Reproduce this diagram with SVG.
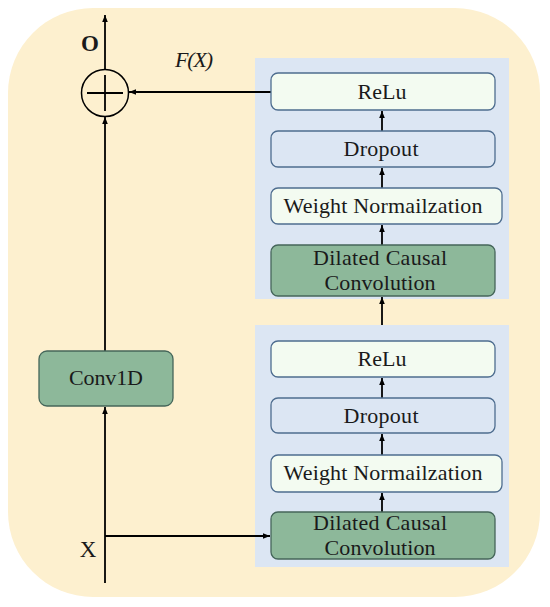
<svg xmlns="http://www.w3.org/2000/svg" width="550" height="607" viewBox="0 0 550 607">
<defs>
<marker id="ah" viewBox="0 0 10 10" refX="10" refY="5" markerWidth="7" markerHeight="7" markerUnits="userSpaceOnUse" orient="auto">
<path d="M0,1 L10,5 L0,9 Z" fill="#000"/>
</marker>
<style>
.t{font-family:"Liberation Serif","DejaVu Serif",serif;font-size:22px;fill:#1a1a1a;text-anchor:middle}
.lite{fill:#F3FBF1;stroke:#4E6D8F;stroke-width:1.3}
.blue{fill:#DCE6F3;stroke:#4E6D8F;stroke-width:1.3}
.green{fill:#8DB89A;stroke:#45665A;stroke-width:1.3}
.panel{fill:#DCE6F3}
.ln{stroke:#000;stroke-width:1.8;fill:none}
</style>
</defs>
<rect x="8" y="8" width="532" height="589" rx="85" ry="85" fill="#FDF0CF"/>
<rect class="panel" x="255" y="58" width="254" height="241"/>
<rect class="panel" x="255" y="325" width="254" height="242"/>
<g id="connectors">
<line class="ln" x1="105" y1="583" x2="105" y2="407" marker-end="url(#ah)"/>
<line class="ln" x1="105" y1="536" x2="270" y2="536" marker-end="url(#ah)"/>
<line class="ln" x1="105" y1="351" x2="105" y2="117" marker-end="url(#ah)"/>
<line class="ln" x1="105" y1="69" x2="105" y2="15" marker-end="url(#ah)"/>
<line class="ln" x1="271" y1="92" x2="129" y2="92" marker-end="url(#ah)"/>
<line class="ln" x1="382" y1="325" x2="382" y2="297" marker-end="url(#ah)"/>
<line class="ln" x1="382" y1="245" x2="382" y2="225" marker-end="url(#ah)"/>
<line class="ln" x1="382" y1="188" x2="382" y2="168" marker-end="url(#ah)"/>
<line class="ln" x1="382" y1="131" x2="382" y2="111" marker-end="url(#ah)"/>
<line class="ln" x1="382" y1="512" x2="382" y2="493" marker-end="url(#ah)"/>
<line class="ln" x1="382" y1="455" x2="382" y2="434" marker-end="url(#ah)"/>
<line class="ln" x1="382" y1="398" x2="382" y2="378" marker-end="url(#ah)"/>
</g>
<g id="sum">
<circle cx="105" cy="93" r="23.5" fill="none" stroke="#000" stroke-width="1.5"/>
<line x1="87" y1="93" x2="123" y2="93" stroke="#000" stroke-width="1.8"/>
<line x1="105" y1="75" x2="105" y2="111" stroke="#000" stroke-width="1.8"/>
</g>
<g id="labels">
<text class="t" x="90" y="51" style="font-weight:bold;font-size:23px">O</text>
<text class="t" x="194" y="67" style="font-style:italic" textLength="38">F(X)</text>
<text class="t" x="88" y="557" style="font-size:23px">X</text>
</g>
<g id="conv1d">
<rect class="green" x="39" y="351" width="134" height="55" rx="8"/>
<text class="t" x="106" y="385" textLength="74">Conv1D</text>
</g>
<g id="relu1">
<rect class="lite" x="271" y="73" width="224" height="37" rx="7"/>
<text class="t" x="382" y="99" textLength="49">ReLu</text>
</g>
<g id="dropout1">
<rect class="blue" x="271" y="131" width="224" height="36" rx="7"/>
<text class="t" x="381" y="156" textLength="75">Dropout</text>
</g>
<g id="weightnorm1">
<rect class="lite" x="271" y="188" width="231" height="36" rx="7"/>
<text class="t" x="383" y="213" textLength="199">Weight Normailzation</text>
</g>
<g id="dilated1">
<rect class="green" x="271" y="245" width="224" height="51" rx="7"/>
<text class="t" x="380" y="265" textLength="134">Dilated Causal</text>
<text class="t" x="380" y="290" textLength="111">Convolution</text>
</g>
<g id="relu2">
<rect class="lite" x="271" y="341" width="224" height="36" rx="7"/>
<text class="t" x="382" y="366" textLength="49">ReLu</text>
</g>
<g id="dropout2">
<rect class="blue" x="271" y="398" width="224" height="35" rx="7"/>
<text class="t" x="381" y="423" textLength="75">Dropout</text>
</g>
<g id="weightnorm2">
<rect class="lite" x="271" y="455" width="231" height="37" rx="7"/>
<text class="t" x="383" y="480" textLength="199">Weight Normailzation</text>
</g>
<g id="dilated2">
<rect class="green" x="271" y="512" width="224" height="47" rx="7"/>
<text class="t" x="380" y="530" textLength="134">Dilated Causal</text>
<text class="t" x="380" y="555" textLength="111">Convolution</text>
</g>
</svg>
